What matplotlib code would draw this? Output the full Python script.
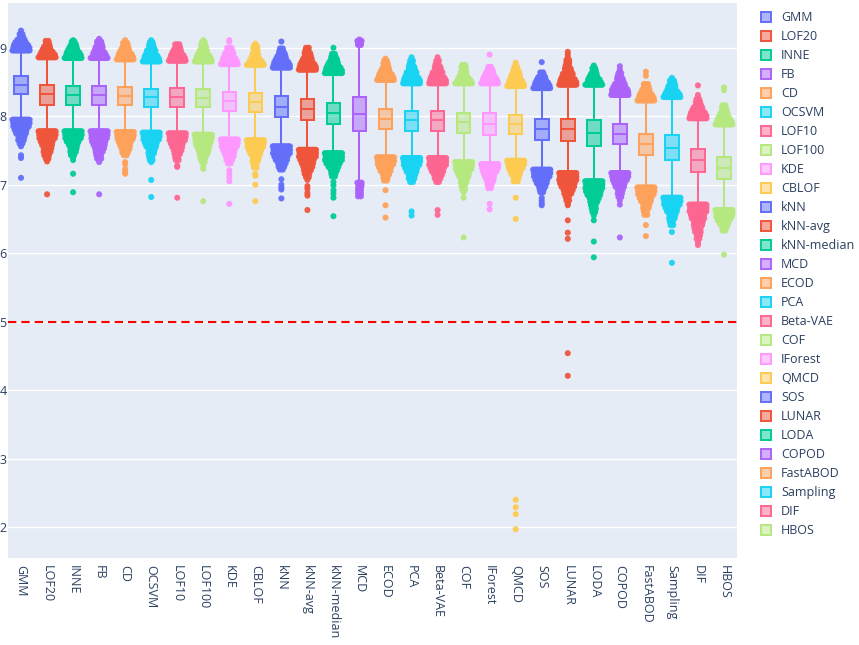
import numpy as np
import matplotlib
matplotlib.use("Agg")
import matplotlib.pyplot as plt
from matplotlib.patches import Rectangle
from matplotlib.colors import to_rgba

plt.rcParams['font.family'] = ['Open Sans', 'DejaVu Sans']

# ---------------------------------------------------------------- data
models = ["GMM", "LOF20", "INNE", "FB", "CD", "OCSVM", "LOF10", "LOF100", "KDE",
          "CBLOF", "kNN", "kNN-avg", "kNN-median", "MCD", "ECOD", "PCA", "Beta-VAE",
          "COF", "IForest", "QMCD", "SOS", "LUNAR", "LODA", "COPOD", "FastABOD",
          "Sampling", "DIF", "HBOS"]

q3 = [8.59, 8.45, 8.44, 8.44, 8.43, 8.40, 8.41, 8.40, 8.35, 8.34, 8.29, 8.25, 8.20, 8.28,
      8.10, 8.08, 8.08, 8.05, 8.04, 8.02, 7.96, 7.96, 7.94, 7.88, 7.74, 7.73, 7.52, 7.40]
median = [8.46, 8.32, 8.31, 8.31, 8.29, 8.28, 8.28, 8.27, 8.22, 8.21, 8.14, 8.10, 8.05, 8.03,
          7.96, 7.94, 7.94, 7.91, 7.89, 7.89, 7.82, 7.81, 7.76, 7.74, 7.59, 7.54, 7.36, 7.24]
q1 = [8.33, 8.17, 8.17, 8.17, 8.16, 8.13, 8.13, 8.13, 8.07, 8.06, 7.99, 7.94, 7.89, 7.78,
      7.82, 7.79, 7.79, 7.76, 7.73, 7.74, 7.66, 7.64, 7.57, 7.59, 7.43, 7.36, 7.19, 7.09]
whisker_hi = [8.95, 8.85, 8.84, 8.84, 8.82, 8.79, 8.80, 8.79, 8.75, 8.74, 8.70, 8.67, 8.62, 9.03,
              8.52, 8.47, 8.47, 8.47, 8.47, 8.43, 8.40, 8.45, 8.45, 8.30, 8.22, 8.27, 7.96, 7.87]
whisker_lo = [7.96, 7.79, 7.79, 7.79, 7.78, 7.77, 7.76, 7.74, 7.67, 7.66, 7.57, 7.52, 7.47, 7.04,
              7.41, 7.40, 7.40, 7.34, 7.31, 7.36, 7.23, 7.18, 7.06, 7.18, 6.97, 6.82, 6.72, 6.64]

# outliers above the upper whisker: (value, number of points at that value)
upper_outliers = {
    "GMM": [(8.96, 13), (9.00, 12), (9.04, 10), (9.08, 8), (9.12, 5), (9.16, 3), (9.20, 2), (9.25, 1)],
    "LOF20": [(8.86, 13), (8.90, 11), (8.94, 8), (8.98, 6), (9.02, 4), (9.06, 3), (9.10, 2)],
    "INNE": [(8.85, 12), (8.89, 11), (8.93, 9), (8.97, 7), (9.01, 5), (9.05, 4), (9.09, 2), (9.11, 1)],
    "FB": [(8.85, 12), (8.89, 10), (8.93, 8), (8.97, 6), (9.01, 5), (9.05, 4), (9.09, 3), (9.13, 1)],
    "CD": [(8.83, 12), (8.87, 11), (8.91, 9), (8.95, 7), (8.99, 5), (9.03, 4), (9.07, 3), (9.11, 1)],
    "OCSVM": [(8.80, 12), (8.84, 11), (8.88, 9), (8.92, 7), (8.96, 6), (9.00, 4), (9.04, 3), (9.08, 2), (9.11, 1)],
    "LOF10": [(8.81, 12), (8.85, 11), (8.89, 9), (8.93, 7), (8.97, 5), (9.01, 4), (9.05, 3)],
    "LOF100": [(8.80, 12), (8.84, 11), (8.88, 9), (8.92, 7), (8.96, 5), (9.00, 4), (9.04, 3), (9.08, 2), (9.11, 1)],
    "KDE": [(8.76, 12), (8.80, 11), (8.84, 9), (8.88, 7), (8.92, 6), (8.96, 4), (9.00, 3), (9.09, 1), (9.11, 1)],
    "CBLOF": [(8.75, 12), (8.79, 10), (8.83, 7), (8.87, 5), (8.91, 4), (8.95, 3), (8.99, 3), (9.03, 2), (9.06, 1)],
    "kNN": [(8.71, 13), (8.75, 12), (8.79, 10), (8.83, 8), (8.87, 6), (8.91, 5), (8.95, 3), (8.99, 2), (9.09, 1)],
    "kNN-avg": [(8.68, 13), (8.72, 12), (8.76, 10), (8.80, 8), (8.84, 6), (8.88, 5), (8.92, 4), (8.96, 3), (9.00, 2)],
    "kNN-median": [(8.63, 13), (8.67, 12), (8.71, 10), (8.75, 8), (8.79, 6), (8.83, 5), (8.87, 3), (8.91, 2), (9.00, 1)],
    "MCD": [(9.04, 2), (9.07, 2), (9.10, 3), (9.12, 1)],
    "ECOD": [(8.53, 12), (8.57, 11), (8.61, 9), (8.65, 7), (8.69, 5), (8.73, 4), (8.77, 3), (8.81, 2), (8.84, 1)],
    "PCA": [(8.48, 12), (8.52, 12), (8.56, 10), (8.60, 8), (8.64, 7), (8.68, 5), (8.72, 4), (8.76, 3), (8.81, 2), (8.86, 1)],
    "Beta-VAE": [(8.48, 12), (8.52, 12), (8.56, 10), (8.60, 8), (8.64, 7), (8.68, 5), (8.72, 4), (8.76, 3), (8.81, 2), (8.86, 1)],
    "COF": [(8.48, 12), (8.52, 10), (8.56, 7), (8.60, 5), (8.64, 4), (8.68, 3), (8.72, 3), (8.75, 2)],
    "IForest": [(8.48, 12), (8.52, 11), (8.56, 9), (8.60, 7), (8.64, 5), (8.68, 4), (8.72, 2), (8.90, 1)],
    "QMCD": [(8.44, 12), (8.48, 11), (8.52, 9), (8.56, 7), (8.60, 6), (8.64, 5), (8.68, 3), (8.72, 2), (8.78, 1)],
    "SOS": [(8.41, 12), (8.45, 11), (8.49, 9), (8.53, 7), (8.57, 5), (8.61, 3), (8.64, 2), (8.79, 1)],
    "LUNAR": [(8.46, 13), (8.50, 12), (8.54, 10), (8.58, 8), (8.62, 7), (8.66, 5), (8.70, 4), (8.74, 3),
              (8.78, 2), (8.82, 2), (8.86, 1), (8.90, 1), (8.94, 1)],
    "LODA": [(8.46, 12), (8.50, 10), (8.54, 8), (8.58, 6), (8.62, 4), (8.66, 3), (8.70, 2), (8.74, 1)],
    "COPOD": [(8.31, 13), (8.35, 12), (8.39, 11), (8.43, 9), (8.47, 7), (8.51, 5), (8.55, 4), (8.59, 3),
              (8.63, 2), (8.68, 1), (8.73, 1)],
    "FastABOD": [(8.23, 12), (8.27, 11), (8.31, 9), (8.35, 7), (8.39, 5), (8.43, 4), (8.47, 3), (8.59, 1), (8.65, 1)],
    "Sampling": [(8.28, 12), (8.32, 11), (8.36, 8), (8.40, 6), (8.44, 5), (8.48, 4), (8.52, 3), (8.56, 1)],
    "DIF": [(7.97, 13), (8.01, 12), (8.05, 10), (8.09, 8), (8.13, 6), (8.17, 4), (8.21, 3), (8.25, 2), (8.31, 1), (8.45, 1)],
    "HBOS": [(7.88, 12), (7.92, 11), (7.96, 9), (8.00, 7), (8.04, 5), (8.08, 4), (8.12, 3), (8.16, 2), (8.38, 1), (8.42, 1)],
}

# outliers below the lower whisker: (value, number of points at that value)
lower_outliers = {
    "GMM": [(7.95, 14), (7.90, 13), (7.85, 11), (7.80, 9), (7.75, 7), (7.70, 5), (7.65, 4), (7.60, 2),
            (7.56, 1), (7.43, 1), (7.39, 1), (7.10, 1)],
    "LOF20": [(7.78, 14), (7.73, 13), (7.68, 11), (7.63, 9), (7.58, 7), (7.53, 6), (7.48, 5), (7.43, 4),
              (7.38, 2), (7.34, 1), (6.86, 1)],
    "INNE": [(7.78, 13), (7.73, 13), (7.68, 11), (7.63, 9), (7.58, 6), (7.53, 5), (7.48, 4), (7.43, 3),
             (7.40, 1), (7.36, 1), (7.16, 1), (6.89, 1)],
    "FB": [(7.78, 13), (7.73, 12), (7.68, 11), (7.63, 10), (7.58, 8), (7.53, 7), (7.48, 5), (7.43, 4),
           (7.38, 3), (7.33, 1), (6.86, 1)],
    "CD": [(7.77, 13), (7.72, 13), (7.67, 11), (7.62, 9), (7.57, 7), (7.52, 6), (7.47, 4), (7.43, 2),
           (7.33, 1), (7.30, 1), (7.23, 1), (7.19, 1), (7.16, 1)],
    "OCSVM": [(7.76, 13), (7.71, 12), (7.66, 11), (7.61, 9), (7.56, 7), (7.51, 5), (7.46, 4), (7.41, 3),
              (7.36, 2), (7.33, 1), (7.07, 1), (6.82, 1)],
    "LOF10": [(7.75, 13), (7.70, 12), (7.65, 11), (7.60, 9), (7.55, 7), (7.50, 6), (7.45, 4), (7.40, 3),
              (7.36, 2), (7.28, 1), (7.26, 1), (6.81, 1)],
    "LOF100": [(7.73, 13), (7.68, 13), (7.63, 11), (7.58, 10), (7.53, 8), (7.48, 7), (7.43, 5), (7.38, 4),
               (7.33, 2), (7.26, 1), (7.23, 1), (6.76, 1)],
    "KDE": [(7.66, 13), (7.61, 12), (7.56, 11), (7.51, 9), (7.46, 7), (7.41, 6), (7.36, 4), (7.31, 2),
            (7.21, 1), (7.16, 1), (7.11, 1), (7.05, 1), (6.72, 1)],
    "CBLOF": [(7.65, 13), (7.60, 12), (7.55, 11), (7.50, 9), (7.45, 7), (7.40, 5), (7.35, 4), (7.30, 3),
              (7.25, 2), (7.16, 1), (7.13, 1), (7.00, 1), (6.76, 1)],
    "kNN": [(7.56, 14), (7.51, 13), (7.46, 12), (7.41, 10), (7.36, 8), (7.31, 6), (7.26, 4), (7.22, 2),
            (7.08, 1), (7.00, 1), (6.96, 1), (6.93, 1), (6.80, 1)],
    "kNN-avg": [(7.51, 14), (7.46, 14), (7.41, 12), (7.36, 10), (7.31, 8), (7.26, 7), (7.21, 5), (7.16, 4),
                (7.11, 2), (7.07, 1), (6.98, 1), (6.94, 1), (6.88, 1), (6.84, 1), (6.63, 1)],
    "kNN-median": [(7.46, 13), (7.41, 13), (7.36, 12), (7.31, 10), (7.26, 7), (7.21, 5), (7.16, 3), (7.12, 2),
                   (7.04, 1), (6.99, 1), (6.92, 1), (6.87, 1), (6.81, 1), (6.54, 1)],
    "MCD": [(7.03, 3), (6.99, 3), (6.95, 2), (6.91, 2), (6.87, 2), (6.83, 2)],
    "ECOD": [(7.40, 13), (7.35, 13), (7.30, 11), (7.25, 9), (7.20, 7), (7.15, 5), (7.10, 3), (7.06, 2),
             (6.92, 1), (6.70, 1), (6.52, 1)],
    "PCA": [(7.39, 13), (7.34, 13), (7.29, 11), (7.24, 9), (7.19, 7), (7.14, 5), (7.09, 4), (7.04, 2),
            (6.61, 1), (6.55, 1)],
    "Beta-VAE": [(7.39, 13), (7.34, 13), (7.29, 12), (7.24, 10), (7.19, 8), (7.14, 6), (7.09, 4), (7.04, 2),
                 (6.63, 1), (6.56, 1)],
    "COF": [(7.33, 13), (7.28, 12), (7.23, 11), (7.18, 9), (7.13, 7), (7.08, 5), (7.03, 4), (6.98, 3),
            (6.93, 2), (6.89, 1), (6.81, 1), (6.23, 1)],
    "IForest": [(7.30, 13), (7.25, 12), (7.20, 10), (7.15, 8), (7.10, 6), (7.05, 5), (7.00, 3), (6.95, 2),
                (6.72, 1), (6.64, 1)],
    "QMCD": [(7.35, 13), (7.30, 12), (7.25, 10), (7.20, 8), (7.15, 6), (7.10, 4), (7.05, 3), (6.81, 1),
             (6.50, 1), (2.40, 1), (2.29, 1), (2.19, 1), (1.97, 1)],
    "SOS": [(7.22, 13), (7.17, 13), (7.12, 11), (7.07, 9), (7.02, 7), (6.97, 5), (6.93, 3), (6.89, 2),
            (6.81, 1), (6.77, 1), (6.73, 1), (6.70, 1)],
    "LUNAR": [(7.17, 15), (7.12, 14), (7.07, 13), (7.02, 11), (6.97, 9), (6.92, 7), (6.87, 5), (6.82, 3),
              (6.77, 2), (6.72, 1), (6.70, 1), (6.48, 1), (6.30, 1), (6.21, 1), (4.54, 1), (4.21, 1)],
    "LODA": [(7.05, 14), (7.00, 14), (6.95, 12), (6.90, 11), (6.85, 9), (6.80, 7), (6.75, 5), (6.70, 4),
             (6.65, 3), (6.60, 2), (6.55, 1), (6.48, 1), (6.17, 1), (5.94, 1)],
    "COPOD": [(7.17, 13), (7.12, 12), (7.07, 10), (7.02, 8), (6.97, 6), (6.92, 4), (6.87, 3), (6.82, 2),
              (6.77, 1), (6.71, 1), (6.23, 1)],
    "FastABOD": [(6.96, 13), (6.91, 13), (6.86, 11), (6.81, 9), (6.76, 7), (6.71, 5), (6.66, 4), (6.61, 3),
                 (6.56, 2), (6.41, 1), (6.25, 1)],
    "Sampling": [(6.81, 13), (6.76, 13), (6.71, 11), (6.66, 9), (6.61, 7), (6.56, 5), (6.51, 4), (6.46, 3),
                 (6.41, 2), (6.31, 1), (5.86, 1)],
    "DIF": [(6.71, 13), (6.66, 13), (6.61, 12), (6.56, 10), (6.51, 9), (6.46, 7), (6.41, 6), (6.36, 5),
            (6.31, 4), (6.26, 3), (6.21, 2), (6.16, 1), (6.12, 1)],
    "HBOS": [(6.63, 13), (6.58, 13), (6.53, 11), (6.48, 9), (6.43, 6), (6.38, 4), (6.33, 2), (5.98, 1)],
}

threshold = 5
y_ticks = [2, 3, 4, 5, 6, 7, 8, 9]

palette = ["#636EFA", "#EF553B", "#00CC96", "#AB63FA", "#FFA15A",
           "#19D3F3", "#FF6692", "#B6E880", "#FF97FF", "#FECB52"]

# ---------------------------------------------------------------- figure
W, H = 859, 645
fig = plt.figure(figsize=(W / 100, H / 100), dpi=100)
fig.patch.set_facecolor("white")
ax = fig.add_axes([8 / W, 1 - 558 / H, (737 - 8) / W, (558 - 3) / H])
ax.set_facecolor("#E5ECF6")
for s in ax.spines.values():
    s.set_visible(False)

text_color = "#2a3f5f"
box_w = 0.52
lw = 1.45

for i, name in enumerate(models):
    c = palette[i % len(palette)]
    # whiskers
    ax.plot([i, i], [q3[i], whisker_hi[i]], color=c, lw=lw, zorder=2, solid_capstyle="butt")
    ax.plot([i, i], [whisker_lo[i], q1[i]], color=c, lw=lw, zorder=2, solid_capstyle="butt")
    # box
    ax.add_patch(Rectangle((i - box_w / 2, q1[i]), box_w, q3[i] - q1[i],
                           facecolor=to_rgba(c, 0.5), edgecolor=c, lw=lw, zorder=3))
    ax.plot([i - box_w / 2, i + box_w / 2], [median[i], median[i]], color=c, lw=lw, zorder=4,
            solid_capstyle="butt")
    # outlier points, spread sideways according to how many share a level
    xs, ys = [], []
    for group in (upper_outliers[name], lower_outliers[name]):
        for k, (val, n) in enumerate(group):
            hw = min(0.33, 0.027 * n) if n > 1 else 0.0
            offs = np.linspace(-hw, hw, n)
            if n > 2 and k % 2:
                offs = offs + (offs[1] - offs[0]) / 2 * (1 if k % 4 == 1 else -1)
                offs = np.clip(offs, -hw, hw)
            xs.extend(i + offs)
            ys.extend([val] * n)
    ax.scatter(xs, ys, s=19, color=c, edgecolors="none", zorder=5, alpha=0.95)

# threshold line
ax.axhline(threshold, color="red", lw=1.5, dashes=(4, 2.4), zorder=1.5)

ax.set_xlim(-0.5, len(models) - 0.5)
ax.set_ylim(1.55, 9.653)
ax.set_yticks(y_ticks)
ax.set_xticks(range(len(models)))
ax.set_xticklabels(models, rotation=-90, fontsize=9, color=text_color, va="top", ha="center")
ax.tick_params(axis="x", length=0, pad=5)
ax.tick_params(axis="y", length=0, pad=1, labelsize=9, labelcolor=text_color)
ax.grid(axis="y", color="white", lw=1.0, zorder=0)
ax.set_axisbelow(True)

# legend
for i, name in enumerate(models):
    c = palette[i % len(palette)]
    yc = 17.3 + i * 18.99
    fig.add_artist(Rectangle((761 / W, 1 - (yc + 5) / H), 10 / W, 10 / H,
                             transform=fig.transFigure, facecolor=to_rgba(c, 0.5),
                             edgecolor=c, lw=1.4))
    fig.text(781 / W, 1 - yc / H, name, fontsize=9, color=text_color, va="center", ha="left")

fig.savefig("out.png", dpi=100)
